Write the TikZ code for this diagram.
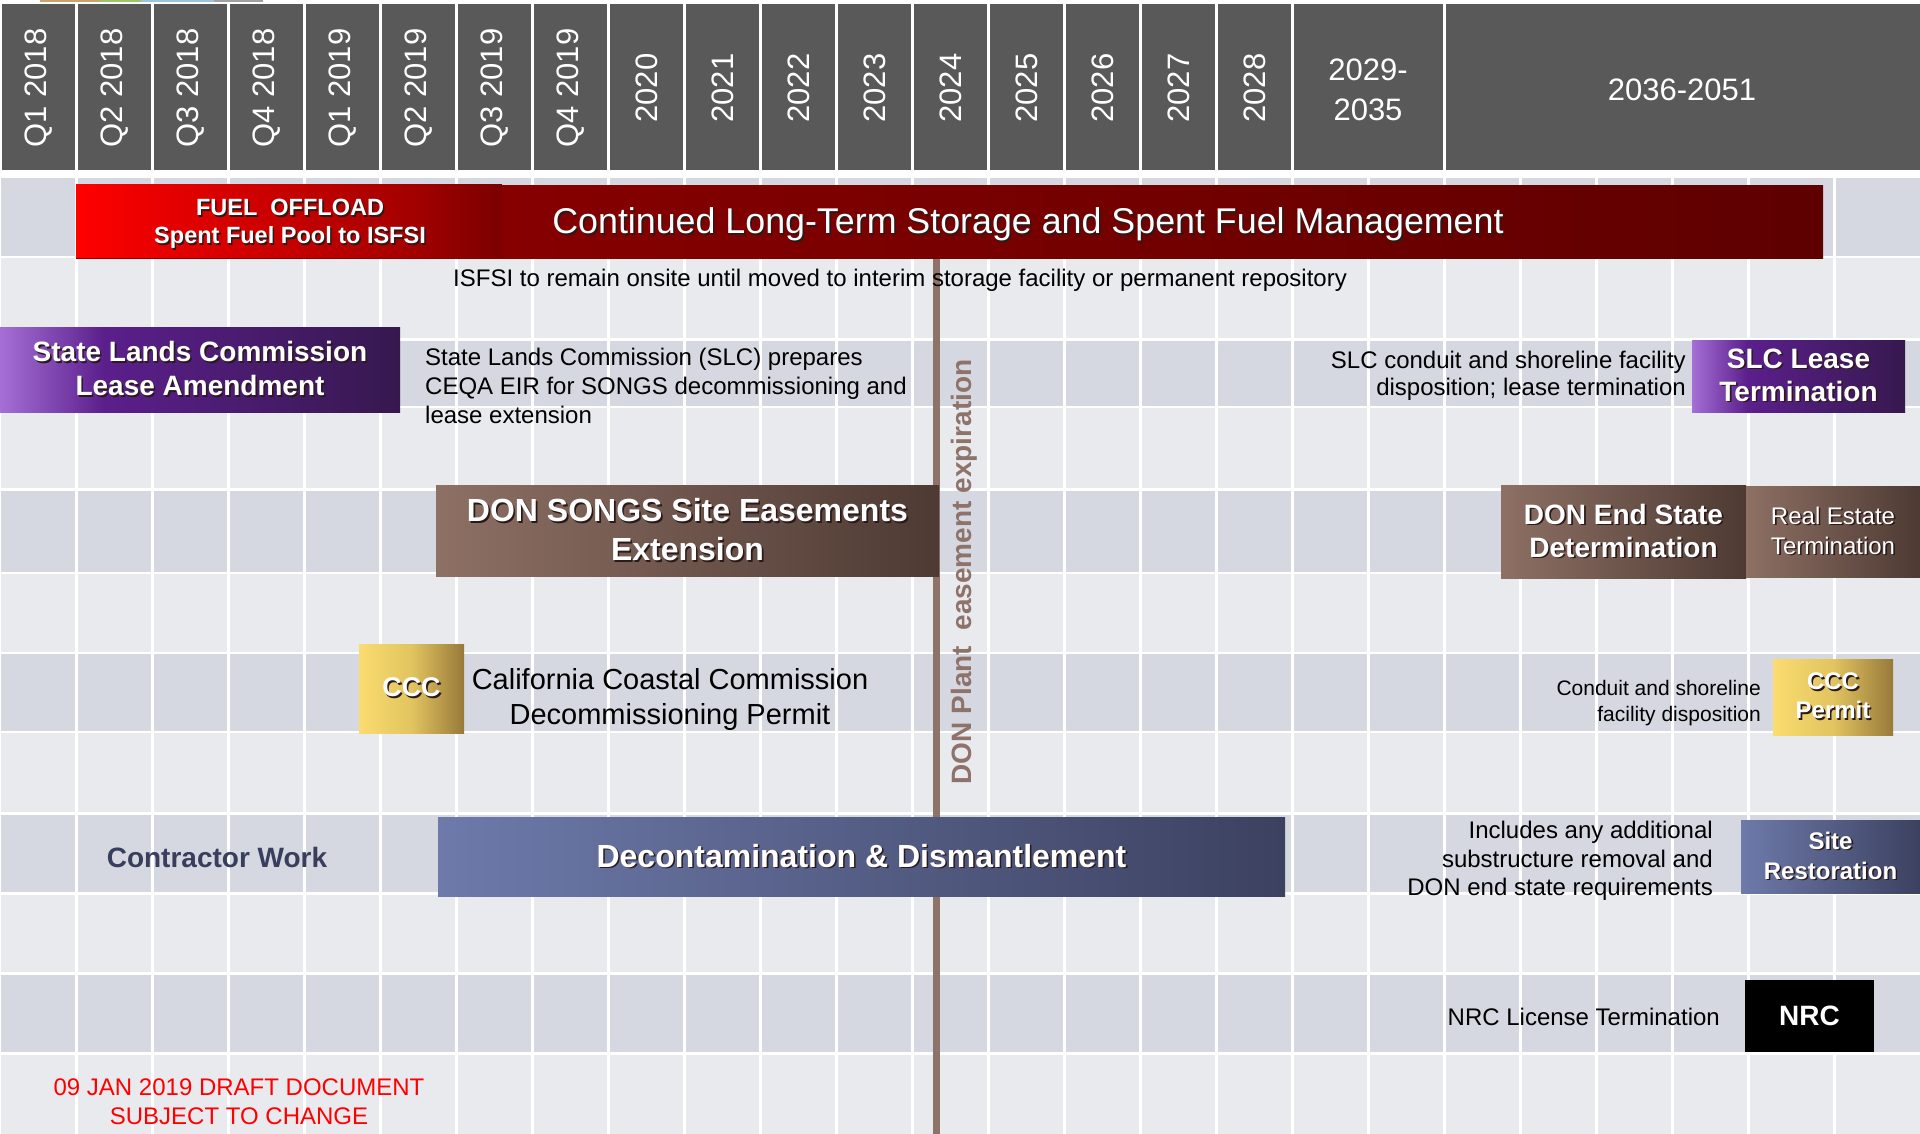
\documentclass[tikz,border=0pt]{standalone}
\usepackage{fontspec}
\setmainfont{Liberation Sans}

% colours
\definecolor{hdrgray}{HTML}{595959}
\definecolor{banddark}{HTML}{D5D8E1}
\definecolor{bandlight}{HTML}{E9EAEE}
\definecolor{redA}{HTML}{FF0000}
\definecolor{redB}{HTML}{A20000}
\definecolor{redC}{HTML}{7A0000}
\definecolor{redD}{HTML}{930000}
\definecolor{redE}{HTML}{5E0000}
\definecolor{plA}{HTML}{A56FD6}
\definecolor{plB}{HTML}{5B1F8C}
\definecolor{plC}{HTML}{36184E}
\definecolor{brA}{HTML}{8E7064}
\definecolor{brB}{HTML}{4D3A33}
\definecolor{gdA}{HTML}{FADC70}
\definecolor{gdB}{HTML}{E2C460}
\definecolor{gdC}{HTML}{98793A}
\definecolor{blA}{HTML}{6D7AAA}
\definecolor{blB}{HTML}{3C4160}
\definecolor{donline}{HTML}{8E736B}
\definecolor{contractor}{HTML}{393E5C}
\definecolor{shadowcol}{HTML}{2A1A1A}
\definecolor{tanbit}{HTML}{C9A46E}
\definecolor{greenbit}{HTML}{9BC56A}
\definecolor{bluebit}{HTML}{9CC3E0}
\definecolor{graybit}{HTML}{A0A0A0}

% shadings (path box = 25bp..75bp)
\pgfdeclarehorizontalshading{fuelshade}{100bp}{color(0bp)=(redA); color(25bp)=(redA); color(65bp)=(redB); color(75bp)=(redC); color(100bp)=(redC)}
\pgfdeclarehorizontalshading{purpleshade}{100bp}{color(0bp)=(plA); color(25bp)=(plA); color(38bp)=(plB); color(75bp)=(plC); color(100bp)=(plC)}

% white text with a dark drop shadow
\newcommand{\shtxt}[1]{\rlap{\hspace{1.6pt}\raisebox{-1.6pt}{\color{shadowcol}#1}}#1}

\tikzset{
  yearlbl/.style={text=white, rotate=90, inner sep=0pt, font=\fontsize{31}{37}\selectfont},
  rangelbl/.style={text=white, align=center, inner sep=0pt, font=\fontsize{31}{40}\selectfont},
  gridline/.style={white, line width=3pt},
  boxlbl/.style={inner sep=0pt, align=center, text=white, font=\bfseries\fontsize{28}{34}\selectfont},
  purplebox/.style={boxlbl, shade, shading=purpleshade, shading angle=0},
  brownbox/.style={boxlbl, shade, left color=brA, right color=brB},
  goldbox/.style={boxlbl, shade, left color=gdA, right color=gdC, middle color=gdB},
  bluebox/.style={boxlbl, shade, left color=blA, right color=blB},
  fuelbox/.style={boxlbl, shade, shading=fuelshade, shading angle=0, font=\bfseries\fontsize{23.5}{28}\selectfont},
  note/.style={inner sep=0pt, text=black, font=\fontsize{24}{29}\selectfont},
}

\begin{document}
\begin{tikzpicture}[x=1pt,y=-1pt]
	\useasboundingbox (0,0) rectangle (1920,1134);

	% legend remnant at the very top
	\fill[tanbit] (40,0) rectangle (101,2);
	\fill[greenbit] (101,0) rectangle (141,2);
	\fill[bluebit] (141,0) rectangle (214,2);
	\fill[graybit] (214,0) rectangle (263,2);

	% Header
	\foreach \lbl [count=\i from 0] in {Q1 2018,Q2 2018,Q3 2018,Q4 2018,Q1 2019,Q2 2019,Q3 2019,Q4 2019,2020,2021,2022,2023,2024,2025,2026,2027,2028}{
		\fill[hdrgray] (76*\i+1.5,4) rectangle (76*\i+74.5,170);
		\node[yearlbl] (yr\i) at (76*\i+39,88) {\lbl};
	}
	\fill[hdrgray] (1293.5,4) rectangle (1442.5,170);
	\node[rangelbl] (yrA) at (1368,90) {2029-\\2035};
	\fill[hdrgray] (1445.5,4) rectangle (1920,170);
	\node[rangelbl] (yrB) at (1682,90) {2036-2051};

	% Row bands
	\foreach \ya/\yb in {178/256,341/406,491/572,654/731,815/892,975/1052}
		\fill[banddark] (1,\ya) rectangle (1920,\yb);
	\foreach \ya/\yb in {258/338,408/488,574/652,733/812,895/972,1055/1134}
		\fill[bandlight] (1,\ya) rectangle (1920,\yb);

	% Grid
	\foreach \k in {1,...,23}
		\draw[gridline] (76*\k,178) -- (76*\k,1134);
	\draw[gridline] (1834,178) -- (1834,1134);

	% Easement expiration line
	\coordinate (lntop) at (936,257);
	\coordinate (lnbot) at (936,1134);
	\draw[donline, line width=7pt] (lntop) -- (lnbot);
	\node[rotate=90, inner sep=0pt, text=donline, font=\bfseries\fontsize{28}{34}\selectfont] (donexp) at (964,572) {DON Plant\ \ easement expiration};

	% Spent fuel
	\node[shade, left color=redD, right color=redE, minimum width=1747pt, minimum height=73pt, inner sep=0pt, anchor=north west] (storebar) at (76,185) {};
	\node[fuelbox, minimum width=426pt, minimum height=73pt] (fuel) at (289,221.5) {};
	\node[boxlbl, font=\bfseries\fontsize{23.5}{28}\selectfont] (fueltxt) at (290,224.5) {\shtxt{FUEL\ \ OFFLOAD}\\\shtxt{Spent Fuel Pool to ISFSI}};
	\node[inner sep=0pt, text=white, font=\fontsize{35.8}{42}\selectfont] (storetxt) at (1028,225) {\shtxt{Continued Long-Term Storage and Spent Fuel Management}};
	\node[note, anchor=west] (isfsi) at (453,280.5) {ISFSI to remain onsite until moved to interim storage facility or permanent repository};

	% State Lands Commission
	\node[purplebox, minimum width=400pt, minimum height=85pt] (slcamend) at (200,369.5) {\shtxt{State Lands Commission}\\\shtxt{Lease Amendment}};
	\node[note, anchor=west, align=left] (slcprep) at (425,385.5) {State Lands Commission (SLC) prepares\\CEQA EIR for SONGS decommissioning and\\lease extension};
	\node[note, anchor=east, align=right, font=\fontsize{24}{27}\selectfont] (slcdisp) at (1686,375.5) {SLC conduit and shoreline facility\\disposition; lease termination};
	\node[purplebox, minimum width=213pt, minimum height=72pt, font=\bfseries\fontsize{28}{33}\selectfont] (slcterm) at (1798.5,376) {\shtxt{SLC Lease}\\\shtxt{Termination}};

	% DON
	\node[brownbox, minimum width=503pt, minimum height=91pt, font=\bfseries\fontsize{32}{39}\selectfont] (donext) at (687.5,530.5) {\shtxt{DON SONGS Site Easements}\\\shtxt{Extension}};
	\node[brownbox, minimum width=245pt, minimum height=93pt, font=\bfseries\fontsize{28}{33}\selectfont] (donend) at (1623.5,531.5) {\shtxt{DON End State}\\\shtxt{Determination}};
	\node[brownbox, minimum width=174pt, minimum height=91pt, font=\fontsize{24}{30}\selectfont] (realest) at (1833,531.5) {\shtxt{Real Estate}\\\shtxt{Termination}};

	% Coastal Commission
	\node[goldbox, minimum width=105pt, minimum height=89pt, font=\bfseries\fontsize{27}{32}\selectfont] (ccc) at (411.5,688.5) {\shtxt{CCC}};
	\node[note, align=center, font=\fontsize{29}{35}\selectfont] (cccdecom) at (670,699) {California Coastal Commission\\Decommissioning Permit};
	\node[note, anchor=east, align=right, font=\fontsize{21}{26}\selectfont] (conduit) at (1761,703.5) {Conduit and shoreline\\facility disposition};
	\node[goldbox, minimum width=120pt, minimum height=76pt, font=\bfseries\fontsize{24}{29}\selectfont] (cccpermit) at (1833,697) {\shtxt{CCC}\\\shtxt{Permit}};

	% Decommissioning work
	\node[inner sep=0pt, text=contractor, font=\bfseries\fontsize{28}{34}\selectfont] (contract) at (217,857.5) {Contractor Work};
	\node[bluebox, minimum width=847pt, minimum height=79pt, font=\bfseries\fontsize{32}{38}\selectfont] (dandd) at (861.5,856.5) {\shtxt{Decontamination \& Dismantlement}};
	\node[note, anchor=east, align=right, font=\fontsize{24}{28.5}\selectfont] (includes) at (1713,861) {Includes any additional\\substructure removal and\\DON end state requirements};
	\node[bluebox, minimum width=179pt, minimum height=73pt, font=\bfseries\fontsize{24}{30}\selectfont] (siterest) at (1830.5,856.5) {\shtxt{Site}\\\shtxt{Restoration}};

	% NRC
	\node[note, anchor=east] (nrclic) at (1720,1016.5) {NRC License Termination};
	\node[boxlbl, fill=black, minimum width=129pt, minimum height=72pt] (nrc) at (1809.5,1016) {NRC};

	% Draft stamp
	\node[note, text=red, align=center] (draft) at (239,1102) {09 JAN 2019 DRAFT DOCUMENT\\SUBJECT TO CHANGE};

\end{tikzpicture}
\end{document}
